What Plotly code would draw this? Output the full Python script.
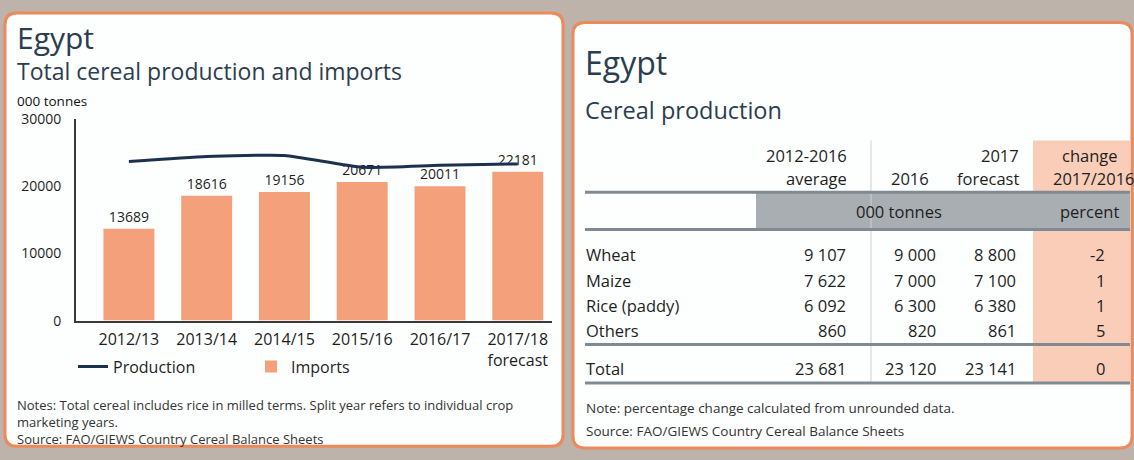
import plotly.graph_objects as go

W, H = 1134, 460

# ---------------- data ----------------
seasons = ["2012/13", "2013/14", "2014/15", "2015/16", "2016/17", "2017/18<br>forecast"]
imports = [13689, 18616, 19156, 20671, 20011, 22181]
production = [23700, 24450, 24600, 22850, 23150, 23350]
y_ticks = [0, 10000, 20000, 30000]

crops = ["Wheat", "Maize", "Rice (paddy)", "Others", "Total"]
avg_2012_2016 = [9107, 7622, 6092, 860, 23681]
prod_2016 = [9000, 7000, 6300, 820, 23120]
forecast_2017 = [8800, 7100, 6380, 861, 23141]
change_pct = [-2, 1, 1, 5, 0]

# ---------------- layout helpers ----------------
def px(x):
    return x / W


def py(y):
    return 1 - y / H


def fmt(v):
    return f"{v:,}".replace(",", " ")


def rounded(x0, y0, x1, y1, r):
    X0, X1 = px(x0), px(x1)
    Y0, Y1 = py(y0), py(y1)
    rx, ry = r / W, r / H
    return (f"M{X0+rx},{Y0} L{X1-rx},{Y0} Q{X1},{Y0} {X1},{Y0-ry} "
            f"L{X1},{Y1+ry} Q{X1},{Y1} {X1-rx},{Y1} L{X0+rx},{Y1} "
            f"Q{X0},{Y1} {X0},{Y1+ry} L{X0},{Y0-ry} Q{X0},{Y0} {X0+rx},{Y0} Z")


FONT = "Open Sans"
DARK = "#1e1e1e"
TITLE = "#2c3d4e"
ORANGE = "#ec8a5c"
BAR = "#f4a07a"
LINE = "#1c3150"
GRID = "#808a92"
BAND = "#a9aeb3"
SHADE = "#f9cdb8"

fig = go.Figure()

fig.add_trace(go.Bar(
    x=seasons, y=imports, name="Imports", marker=dict(color=BAR, line=dict(width=0)),
    width=0.655, text=[str(v) for v in imports], textposition="outside",
    textfont=dict(family=FONT, size=14, color=DARK), cliponaxis=False, legendrank=2,
))
fig.add_trace(go.Scatter(
    x=seasons, y=production, name="Production", mode="lines",
    line=dict(color=LINE, width=3, shape="spline", smoothing=0.5), legendrank=1,
))

shapes = [
    dict(type="path", path=rounded(5, 3, 563, 455, 12), xref="paper", yref="paper",
         line=dict(color=ORANGE, width=3), fillcolor="#fdfefe", layer="below"),
    dict(type="path", path=rounded(573, 13, 1132, 457, 12), xref="paper", yref="paper",
         line=dict(color=ORANGE, width=3), fillcolor="#fdfefe", layer="below"),
    # shaded change column
    dict(type="rect", xref="paper", yref="paper", x0=px(1033), x1=px(1130), y0=py(136), y1=py(389),
         fillcolor=SHADE, line=dict(width=0), layer="below"),
    # grey band
    dict(type="rect", xref="paper", yref="paper", x0=px(756), x1=px(1130), y0=py(190), y1=py(229),
         fillcolor=BAND, line=dict(width=0), layer="below"),
    # vertical separator
    dict(type="line", xref="paper", yref="paper", x0=px(871), x1=px(871), y0=py(136), y1=py(389),
         line=dict(color="#cfcfcf", width=1), layer="below"),
]
for yline in (190, 229, 349, 389):
    shapes.append(dict(type="line", xref="paper", yref="paper", x0=px(585), x1=px(1130),
                       y0=py(yline), y1=py(yline), line=dict(color=GRID, width=3), layer="below"))

ann = []


def text(x, y, s, size, color=DARK, anchor="left"):
    ann.append(dict(x=px(x), y=py(y), xref="paper", yref="paper", text=s, showarrow=False,
                    xanchor=anchor, yanchor="middle", align="left",
                    font=dict(family=FONT, size=size, color=color)))


# left panel texts
text(15, 29, "Egypt", 30, TITLE)
text(15, 64, "Total cereal production and imports", 23, TITLE)
text(15, 95, "000 tonnes", 13.5, "#111111")
text(15, 430, "Notes: Total cereal includes rice in milled terms. Split year refers to individual crop"
              "<br>marketing years.<br>Source: FAO/GIEWS Country Cereal Balance Sheets", 13, "#333333")

# right panel texts
text(583, 55, "Egypt", 32, TITLE)
text(583, 104, "Cereal production", 23.5, TITLE)
text(849, 152, "2012-2016", 16.5, anchor="right")
text(849, 176, "average", 16.5, anchor="right")
text(931, 176, "2016", 16.5, anchor="right")
text(1021, 152, "2017", 16.5, anchor="right")
text(1021, 176, "forecast", 16.5, anchor="right")
text(1090, 152, "change", 16.5, anchor="center")
text(1094, 176, "2017/2016", 16.5, anchor="center")
text(899, 210, "000 tonnes", 16.5, anchor="center")
text(1089, 210, "percent", 16.5, anchor="center")

row_y = [255, 282, 308, 334, 374]
col_x = [848, 938, 1018, 1107]
for i, name in enumerate(crops):
    text(584, row_y[i], name, 16.5)
    for cx, series in zip(col_x, (avg_2012_2016, prod_2016, forecast_2017, change_pct)):
        text(cx, row_y[i], fmt(series[i]), 16.5, anchor="right")

text(584, 415, "Note: percentage change calculated from unrounded data.", 13.5, "#333333")
text(584, 439, "Source: FAO/GIEWS Country Cereal Balance Sheets", 13.5, "#333333")

fig.update_layout(
    width=W, height=H, autosize=False,
    margin=dict(l=0, r=0, t=0, b=0, pad=0),
    paper_bgcolor="#bdb3aa", plot_bgcolor="rgba(0,0,0,0)",
    font=dict(family=FONT, color=DARK),
    shapes=shapes, annotations=ann,
    bargap=0.35,
    xaxis=dict(domain=[px(76), px(552)], type="category", range=[-0.68, 5.44],
               showline=True, linecolor="#3a3a3a", linewidth=2, ticks="", showgrid=False,
               zeroline=False, tickfont=dict(family=FONT, size=16, color=DARK), fixedrange=True,
               ticklabelstandoff=3),
    yaxis=dict(domain=[py(324), py(114)], range=[0, 30000], tickvals=y_ticks, tickformat="d",
               showline=True, linecolor="#3a3a3a", linewidth=2, ticks="", showgrid=False,
               zeroline=False, tickfont=dict(family=FONT, size=14, color=DARK), fixedrange=True,
               ticklabelstandoff=10),
    legend=dict(orientation="h", x=px(73), xanchor="left", y=py(372), yanchor="middle",
                font=dict(family=FONT, size=16, color=DARK), bgcolor="rgba(0,0,0,0)",
                entrywidth=133, entrywidthmode="pixels", borderwidth=0),
    showlegend=True,
)

fig.write_html("out.html")
